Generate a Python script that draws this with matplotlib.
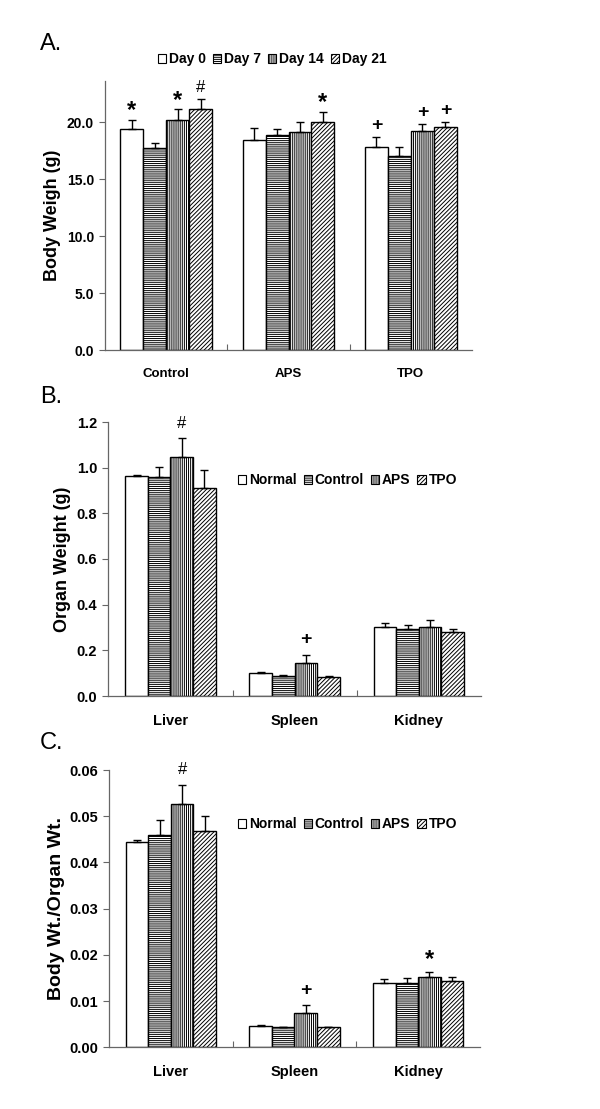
import matplotlib
matplotlib.use("Agg")
import matplotlib.pyplot as plt
import numpy as np
from matplotlib.patches import Patch
from matplotlib.ticker import FormatStrFormatter, FixedLocator

plt.rcParams['font.family'] = ['Liberation Sans', 'DejaVu Sans']
plt.rcParams['hatch.linewidth'] = 0.7

# ---------------- Data ----------------
groups_a = ['Control', 'APS', 'TPO']
days = ['Day 0', 'Day 7', 'Day 14', 'Day 21']
bw_day0 = [19.35, 18.40, 17.83]
bw_day7 = [17.70, 18.85, 17.04]
bw_day14 = [20.20, 19.15, 19.24]
bw_day21 = [21.10, 19.97, 19.56]
bw_err_day0 = [0.85, 1.05, 0.82]
bw_err_day7 = [0.50, 0.55, 0.79]
bw_err_day14 = [0.90, 0.85, 0.56]
bw_err_day21 = [0.90, 0.93, 0.41]
bw_mark_day0 = ['*', '', '+']
bw_mark_day7 = ['', '', '']
bw_mark_day14 = ['*', '', '+']
bw_mark_day21 = ['#', '*', '+']

organs = ['Liver', 'Spleen', 'Kidney']
treatments = ['Normal', 'Control', 'APS', 'TPO']
ow_normal = [0.964, 0.102, 0.304]
ow_control = [0.958, 0.089, 0.292]
ow_aps = [1.048, 0.143, 0.304]
ow_tpo = [0.912, 0.082, 0.282]
ow_err_normal = [0.003, 0.004, 0.014]
ow_err_control = [0.046, 0.004, 0.020]
ow_err_aps = [0.080, 0.037, 0.030]
ow_err_tpo = [0.078, 0.004, 0.010]
ow_mark_aps = ['#', '+', '']

ratio_normal = [0.04435, 0.00460, 0.01398]
ratio_control = [0.04587, 0.00433, 0.01400]
ratio_aps = [0.05264, 0.00735, 0.01528]
ratio_tpo = [0.04687, 0.00430, 0.01441]
ratio_err_normal = [0.0005, 0.0003, 0.0009]
ratio_err_control = [0.0033, 0.0001, 0.0011]
ratio_err_aps = [0.0041, 0.0017, 0.0011]
ratio_err_tpo = [0.0032, 0.0001, 0.0007]
ratio_mark_aps = ['#', '+', '*']

hatches = ['', '--------', '||||||||', '////////']

fig = plt.figure(figsize=(6.0, 11.09), dpi=100)


def draw_panel(ax, cats, series, errs, marks, width, ylim, yticks, fmt,
               ylabel, ylab_size, xlab_size, ytick_size, mark_off):
    x = np.arange(len(cats))
    n = len(series)
    for i in range(n):
        pos = x + (i - (n - 1) / 2) * width
        ax.bar(pos, series[i], width=width, color='white', edgecolor='black',
               hatch=hatches[i], linewidth=1.0, zorder=2)
        ax.errorbar(pos, series[i], yerr=[np.zeros(len(cats)), errs[i]],
                    fmt='none', ecolor='black', elinewidth=1.0, capsize=3,
                    capthick=1.0, zorder=3)
        for j in range(len(cats)):
            m = marks[i][j]
            if m:
                top = series[i][j] + errs[i][j]
                if m == '*':
                    fs, fw, extra = 17, 'bold', -2
                elif m == '+':
                    fs, fw, extra = 14, 'bold', 0
                else:
                    fs, fw, extra = 12, 'normal', 0
                ax.annotate(m, (pos[j], top), xytext=(0, mark_off + extra),
                            textcoords='offset points', ha='center',
                            va='center', fontsize=fs, fontweight=fw)
    ax.set_xlim(-0.5, len(cats) - 0.5)
    ax.set_ylim(*ylim)
    ax.yaxis.set_major_locator(FixedLocator(yticks))
    ax.yaxis.set_major_formatter(FormatStrFormatter(fmt))
    ax.set_xticks(x)
    ax.set_xticklabels(cats, fontsize=xlab_size, fontweight='bold')
    ax.tick_params(axis='x', which='major', length=0, pad=13)
    ax.xaxis.set_minor_locator(FixedLocator(np.arange(0.5, len(cats) - 0.5, 1.0)))
    ax.tick_params(axis='x', which='minor', direction='in', length=4,
                   width=0.8, color='#666666')
    ax.tick_params(axis='y', direction='out', length=4, width=0.8,
                   color='#666666', labelsize=ytick_size, pad=4)
    for lab in ax.get_yticklabels():
        lab.set_fontweight('bold')
    for s in ['top', 'right']:
        ax.spines[s].set_visible(False)
    for s in ['left', 'bottom']:
        ax.spines[s].set_color('#666666')
        ax.spines[s].set_linewidth(0.9)
    ax.set_ylabel(ylabel, fontsize=ylab_size, fontweight='bold')


def add_legend(labels, cx, cy, fs):
    handles = [Patch(facecolor='white', edgecolor='black', hatch=h,
                     linewidth=0.8) for h in hatches]
    fig.legend(handles, labels, loc='center', bbox_to_anchor=(cx, cy),
               bbox_transform=fig.transFigure, ncol=4, frameon=False,
               handlelength=0.6, handleheight=0.6, handletextpad=0.2,
               columnspacing=0.5, borderpad=0.1,
               prop={'weight': 'bold', 'size': fs})


H = 1109.0
W = 600.0


def rect(l, r, t, b):
    return [l / W, 1 - b / H, (r - l) / W, (b - t) / H]


# Panel A
axA = fig.add_axes(rect(105, 472, 81, 350))
draw_panel(axA, groups_a, [bw_day0, bw_day7, bw_day14, bw_day21],
           [bw_err_day0, bw_err_day7, bw_err_day14, bw_err_day21],
           [bw_mark_day0, bw_mark_day7, bw_mark_day14, bw_mark_day21],
           0.188, (0, 23.6), [0, 5, 10, 15, 20], '%.1f',
           'Body Weigh (g)', 13, 9.5, 10, 8.5)
axA.yaxis.set_label_coords(-0.12, 0.5)
add_legend(days, 272 / W, 1 - 59 / H, 10)

# Panel B
axB = fig.add_axes(rect(108.3, 481, 422, 696))
draw_panel(axB, organs, [ow_normal, ow_control, ow_aps, ow_tpo],
           [ow_err_normal, ow_err_control, ow_err_aps, ow_err_tpo],
           [['', '', ''], ['', '', ''], ow_mark_aps, ['', '', '']],
           0.182, (0, 1.2), [0, 0.2, 0.4, 0.6, 0.8, 1.0, 1.2], '%.1f',
           'Organ Weight (g)', 13, 10.5, 10.5, 11)
axB.yaxis.set_label_coords(-0.10, 0.5)
add_legend(treatments, 347.5 / W, 1 - 480 / H, 10)

# Panel C
axC = fig.add_axes(rect(109, 480, 770, 1047.3))
draw_panel(axC, organs, [ratio_normal, ratio_control, ratio_aps, ratio_tpo],
           [ratio_err_normal, ratio_err_control, ratio_err_aps, ratio_err_tpo],
           [['', '', ''], ['', '', ''], ratio_mark_aps, ['', '', '']],
           0.182, (0, 0.06), [0, 0.01, 0.02, 0.03, 0.04, 0.05, 0.06], '%.2f',
           'Body Wt./Organ Wt.', 14, 10.5, 10.5, 11)
axC.yaxis.set_label_coords(-0.119, 0.5)
add_legend(treatments, 347.5 / W, 1 - 824 / H, 10)

# Panel letters
fig.text(40 / W, 1 - 44 / H, 'A.', fontsize=17, ha='left', va='center')
fig.text(40 / W, 1 - 397 / H, 'B.', fontsize=17, ha='left', va='center')
fig.text(40 / W, 1 - 743 / H, 'C.', fontsize=17, ha='left', va='center')

fig.savefig('out.png', dpi=100)
